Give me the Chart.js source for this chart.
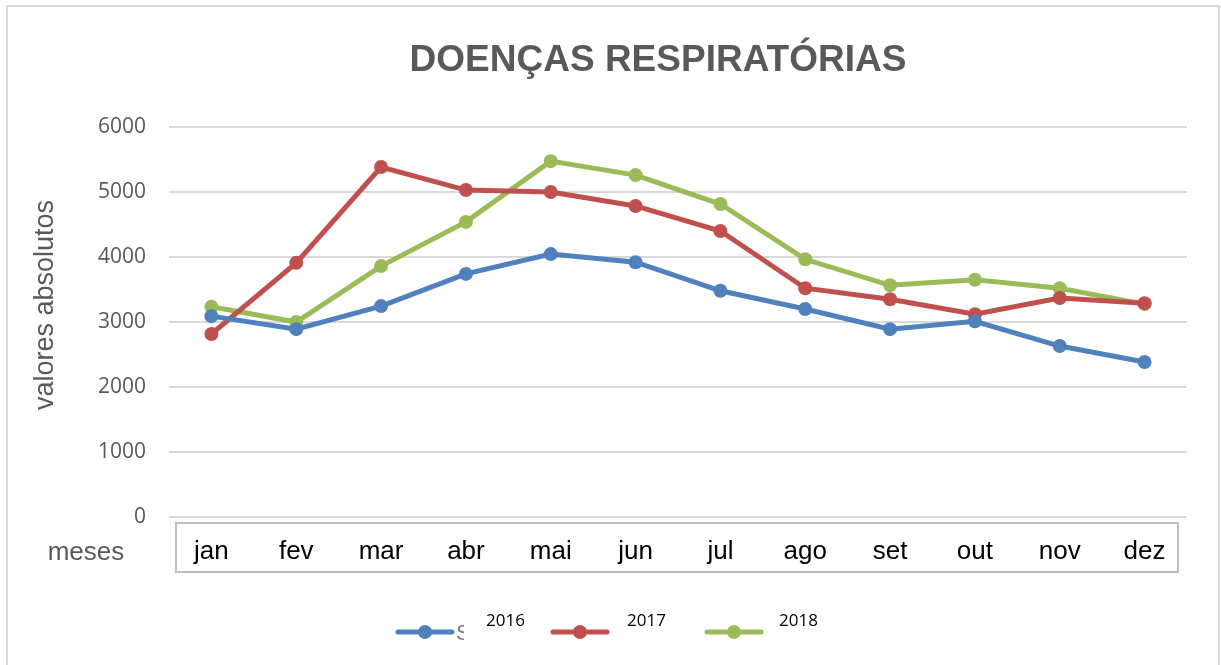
<!DOCTYPE html>
<html>
<head>
<meta charset="utf-8">
<script src="https://cdn.jsdelivr.net/npm/chart.js@4"></script>
<style>
  html, body { margin: 0; padding: 0; background: #fff; }
  #wrap { width: 1221px; height: 665px; }
</style>
</head>
<body>
<div id="wrap"><canvas id="grafico" width="1221" height="665"></canvas></div>
<script>
// dados
const meses = ['jan', 'fev', 'mar', 'abr', 'mai', 'jun', 'jul', 'ago', 'set', 'out', 'nov', 'dez'];
const anos = ['2016', '2017', '2018'];
const valores2016 = [3090, 2890, 3245, 3740, 4045, 3920, 3480, 3200, 2890, 3010, 2630, 2385];
const valores2017 = [2815, 3910, 5385, 5030, 5000, 4785, 4400, 3520, 3350, 3120, 3370, 3290];
const valores2018 = [3235, 3000, 3860, 4540, 5475, 5260, 4815, 3965, 3565, 3650, 3520, 3275];
const yTicks = [0, 1000, 2000, 3000, 4000, 5000, 6000];

const cores = ['#4f81bd', '#c0504d', '#9bbb59'];
const cinza = '#595959';

const serie = (label, data, cor) => ({
	label: label,
	data: data,
	borderColor: cor,
	backgroundColor: cor,
	borderWidth: 5,
	pointRadius: 7,
	pointHoverRadius: 7,
	pointBorderWidth: 0,
	tension: 0
});

// extras: moldura, titulo, caixa dos meses, legenda
const extras = {
	id: 'extras',
	beforeDraw(chart) {
		const ctx = chart.ctx;
		ctx.save();
		ctx.fillStyle = '#fff';
		ctx.fillRect(0, 0, chart.width, chart.height);
		ctx.strokeStyle = '#d9d9d9';
		ctx.lineWidth = 2;
		ctx.strokeRect(7, 6, 1212, 700);
		ctx.restore();
	},
	afterDraw(chart) {
		const ctx = chart.ctx;
		const area = chart.chartArea;
		ctx.save();

		// titulo
		ctx.fillStyle = cinza;
		ctx.font = 'bold 37px "Liberation Sans", Arial, sans-serif';
		ctx.textAlign = 'center';
		ctx.textBaseline = 'middle';
		ctx.fillText('DOENÇAS RESPIRATÓRIAS', 658, 61);

		// titulo do eixo y
		ctx.save();
		ctx.translate(46, 305);
		ctx.rotate(-Math.PI / 2);
		ctx.font = '27px "Liberation Sans", Arial, sans-serif';
		ctx.fillText('valores absolutos', 0, 0);
		ctx.restore();

		// caixa dos meses
		ctx.strokeStyle = '#bfbfbf';
		ctx.lineWidth = 2;
		ctx.strokeRect(area.left + 7, area.bottom + 6, area.right - area.left - 16, 49);

		ctx.fillStyle = cinza;
		ctx.font = '26px "Liberation Sans", Arial, sans-serif';
		ctx.textAlign = 'center';
		ctx.fillText('meses', 86, 553);

		// legenda
		const inicio = [398, 553, 707];
		const textoX = [486, 627, 779];
		chart.data.datasets.forEach((ds, i) => {
			const x0 = inicio[i], y = 632;
			ctx.strokeStyle = ds.borderColor;
			ctx.lineWidth = 5;
			ctx.lineCap = 'round';
			ctx.beginPath();
			ctx.moveTo(x0, y);
			ctx.lineTo(x0 + 54, y);
			ctx.stroke();
			ctx.fillStyle = ds.borderColor;
			ctx.beginPath();
			ctx.arc(x0 + 27, y, 7, 0, Math.PI * 2);
			ctx.fill();

			ctx.fillStyle = '#000';
			ctx.font = '17px "Open Sans", sans-serif';
			ctx.textAlign = 'left';
			ctx.textBaseline = 'middle';
			ctx.fillText(ds.label, textoX[i], 621);
		});

		// pedaco de texto cortado ao lado da primeira serie
		ctx.save();
		ctx.beginPath();
		ctx.rect(455, 615, 9, 35);
		ctx.clip();
		ctx.fillStyle = '#7f7f7f';
		ctx.font = '22px "Liberation Sans", Arial, sans-serif';
		ctx.textAlign = 'left';
		ctx.textBaseline = 'middle';
		ctx.fillText('S', 456, 634);
		ctx.restore();

		ctx.restore();
	}
};

const data = {
	labels: meses,
	datasets: [
		serie(anos[0], valores2016, cores[0]),
		serie(anos[1], valores2017, cores[1]),
		serie(anos[2], valores2018, cores[2])
	]
};

const config = {
	type: 'line',
	data: data,
	options: {
		responsive: false,
		animation: false,
		layout: { padding: { top: 127, right: 34, left: 0, bottom: 0 } },
		plugins: {
			legend: { display: false },
			title: { display: false },
			tooltip: { enabled: false }
		},
		scales: {
			x: {
				offset: true,
				grid: { display: false, drawTicks: false },
				border: { display: false },
				ticks: {
					color: '#000',
					padding: 19,
					maxRotation: 0,
					autoSkip: false,
					font: { family: '"Liberation Sans", Arial, sans-serif', size: 26 }
				},
				afterFit: s => { s.height = 148; }
			},
			y: {
				min: 0,
				max: 6000,
				afterBuildTicks: s => { s.ticks = yTicks.map(v => ({ value: v })); },
				grid: { color: '#d9d9d9', lineWidth: 2, drawTicks: false },
				border: { display: false },
				ticks: {
					color: cinza,
					padding: 23,
					callback: v => String(v),
					font: { family: '"Open Sans", sans-serif', size: 21 }
				},
				afterFit: s => { s.width = 169; }
			}
		}
	},
	plugins: [extras]
};

const grafico = new Chart(document.getElementById('grafico'), config);
</script>
</body>
</html>
